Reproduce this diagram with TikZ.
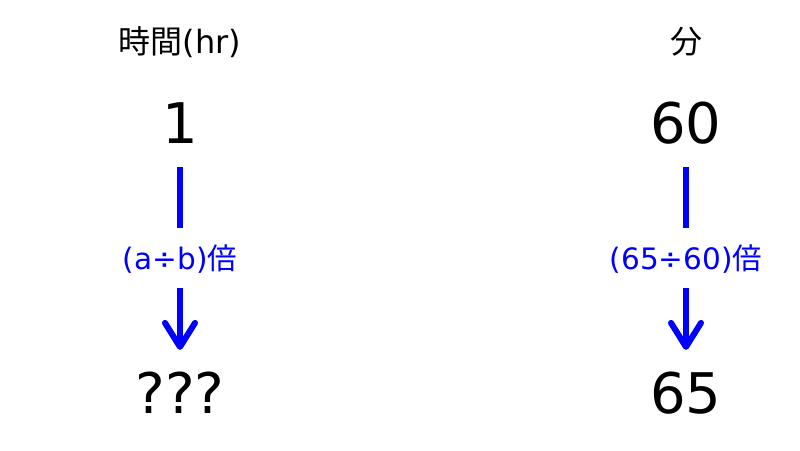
\documentclass[tikz,border=0pt]{standalone}
\usepackage{fontspec}
\setmainfont{DejaVu Sans}
\newfontfamily\jpfont{Noto Sans CJK JP}
\usetikzlibrary{arrows.meta,positioning}
\definecolor{ratioblue}{RGB}{0,0,255}
\tikzset{
  head/.style={font=\fontsize{32}{36}\selectfont, inner sep=0pt, text height=27.2pt, text depth=4.8pt},
  num/.style={font=\fontsize{56}{60}\selectfont, inner sep=0pt, text height=41pt, text depth=0pt},
  ratio/.style={font=\fontsize{29.5}{33}\selectfont, text=ratioblue, inner sep=0pt, text height=25pt, text depth=4.5pt},
  link/.style={draw=ratioblue, line width=6pt},
  tip/.style={-{Straight Barb[round, length=24pt, width=30pt]}},
}
\begin{document}
\begin{tikzpicture}[x=1pt, y=-1pt]
\useasboundingbox (0,0) rectangle (800,450);
% left column: hours
\node[head] (hour) at (180,42) {{\jpfont 時間}(hr)};
\node[num] (hourval) at (180,122.6) {1};
\node[ratio] (hourratio) at (180,259) {(a÷b){\jpfont 倍}};
\node[num] (hourres) at (180,392.6) {???};
% right column: minutes
\node[head] (minute) at (686,42) {{\jpfont 分}};
\node[num] (minval) at (686,122.6) {60};
\node[ratio] (minratio) at (686,259) {(65÷60){\jpfont 倍}};
\node[num] (minres) at (686,392.6) {65};
\draw[link, shorten <=24pt, shorten >=16pt] (hourval) -- (hourratio);
\draw[link, tip, shorten <=14pt, shorten >=22pt] (hourratio) -- (hourres);
\draw[link, shorten <=24pt, shorten >=16pt] (minval) -- (minratio);
\draw[link, tip, shorten <=14pt, shorten >=22pt] (minratio) -- (minres);
\end{tikzpicture}
\end{document}
